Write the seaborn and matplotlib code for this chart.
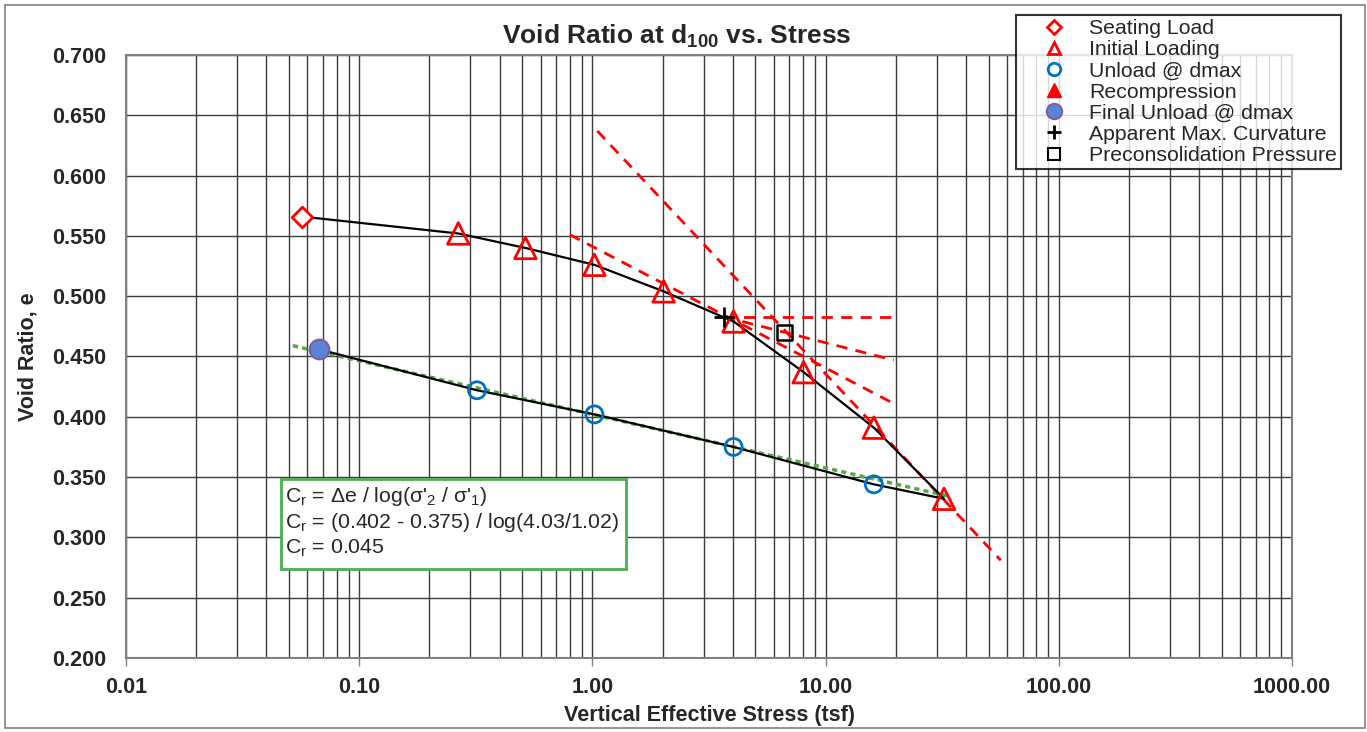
import numpy as np
import pandas as pd
import seaborn as sns
import matplotlib.pyplot as plt
from matplotlib.lines import Line2D
from matplotlib.patches import Rectangle
from matplotlib.ticker import FixedLocator, LogLocator, NullFormatter

# seating load
seat_x = [0.057]
seat_e = [0.566]

# initial loading
load_x = [0.266, 0.516, 1.02, 2.02, 4.03, 8.05, 16.1, 32.2]
load_e = [0.552, 0.540, 0.526, 0.504, 0.479, 0.437, 0.391, 0.332]

# unload @ dmax
unload_x = [16.1, 4.03, 1.02, 0.32]
unload_e = [0.344, 0.375, 0.402, 0.422]

# final unload @ dmax
final_x = [0.067]
final_e = [0.456]

# Casagrande construction
curv_x, curv_e = [3.65], [0.483]
pc_x, pc_e = [6.67], [0.470]
virgin_x, virgin_e = [1.05, 56.4], [0.637, 0.281]
tangent_x, tangent_e = [0.80, 19.6], [0.551, 0.411]
bisect_x, bisect_e = [3.65, 19.6], [0.483, 0.447]
horiz_x, horiz_e = [3.65, 19.6], [0.483, 0.483]

# recompression index fit
cr_x, cr_e = [0.052, 34.0], [0.459, 0.334]

x_ticks = [0.01, 0.1, 1, 10, 100, 1000]
x_labels = ["0.01", "0.10", "1.00", "10.00", "100.00", "1000.00"]
y_ticks = [0.200, 0.250, 0.300, 0.350, 0.400, 0.450, 0.500, 0.550, 0.600, 0.650, 0.700]

sns.set_theme(style="white")
plt.rcParams['font.family'] = ['Liberation Sans', 'DejaVu Sans']
plt.rcParams['mathtext.fontset'] = 'custom'
plt.rcParams['mathtext.rm'] = 'Liberation Sans'
plt.rcParams['mathtext.it'] = 'Liberation Sans:italic'
plt.rcParams['mathtext.bf'] = 'Liberation Sans:bold'

W, H = 1367, 732
fig = plt.figure(figsize=(W / 100, H / 100), dpi=100)
ax = fig.add_axes([126 / W, 1 - 658 / H, (1292 - 126) / W, (658 - 55) / H])

# full e-log p curve (loading then unloading)
curve = pd.DataFrame({
    "stress": seat_x + load_x + unload_x + final_x,
    "e": seat_e + load_e + unload_e + final_e,
})
sns.lineplot(data=curve, x="stress", y="e", sort=False, estimator=None,
             color="black", lw=1.6, ax=ax, zorder=3)

dash = dict(color="red", lw=2, dashes=(4, 3), zorder=2)
for xs, es in [(virgin_x, virgin_e), (tangent_x, tangent_e), (bisect_x, bisect_e), (horiz_x, horiz_e)]:
    ax.plot(xs, es, **dash)
ax.plot(cr_x, cr_e, color="#55a845", lw=2.5, dashes=(1.5, 1.2), zorder=2)

sns.scatterplot(x=seat_x, y=seat_e, marker="D", s=110, facecolor="white", edgecolor="red", linewidth=2, ax=ax, zorder=5)
sns.scatterplot(x=load_x, y=load_e, marker="^", s=240, facecolor="none", edgecolor="red", linewidth=2, ax=ax, zorder=5)
sns.scatterplot(x=unload_x, y=unload_e, marker="o", s=150, facecolor="none", edgecolor="#0070c0", linewidth=2, ax=ax, zorder=5)
sns.scatterplot(x=final_x, y=final_e, marker="o", s=200, facecolor="#5b84d4", edgecolor="#7a5da8", linewidth=1.5, ax=ax, zorder=5)
sns.scatterplot(x=curv_x, y=curv_e, marker="+", s=220, color="black", linewidth=2, ax=ax, zorder=6)
sns.scatterplot(x=pc_x, y=pc_e, marker="s", s=120, facecolor="none", edgecolor="black", linewidth=1.8, ax=ax, zorder=6)

ax.set_xscale("log")
ax.set_xlim(0.01, 1000)
ax.set_ylim(0.2, 0.7)
ax.xaxis.set_major_locator(FixedLocator(x_ticks))
ax.set_xticklabels(x_labels)
ax.xaxis.set_minor_locator(LogLocator(base=10, subs=np.arange(2, 10)))
ax.xaxis.set_minor_formatter(NullFormatter())
ax.set_yticks(y_ticks)
ax.set_yticklabels([f"{v:.3f}" for v in y_ticks])

ax.grid(True, which="major", axis="both", color="#3c3c3c", lw=1)
ax.grid(True, which="minor", axis="x", color="#3c3c3c", lw=1)
ax.tick_params(axis="x", which="major", bottom=True, length=6, width=1, color="#808080", pad=8, labelsize=15.5)
ax.tick_params(axis="x", which="minor", bottom=False)
ax.tick_params(axis="y", left=False, length=0, pad=14, labelsize=15.5)
for lab in ax.get_xticklabels() + ax.get_yticklabels():
    lab.set_fontweight("bold")
for sp in ax.spines.values():
    sp.set_color("#808080")
    sp.set_linewidth(1.5)

ax.set_xlabel("Vertical Effective Stress (tsf)", fontsize=15.5, fontweight="bold", labelpad=5)
ax.set_ylabel("Void Ratio, e", fontsize=15.5, fontweight="bold", labelpad=10)
fig.text(677 / W, 1 - 36 / H, r"Void Ratio at d$_{\mathbf{100}}$ vs. Stress",
         ha="center", va="center", fontsize=19, fontweight="bold")

# Cr annotation box
fig.patches.append(Rectangle((281 / W, 1 - 569 / H), 345 / W, 90 / H, transform=fig.transFigure,
                             facecolor="white", edgecolor="#4caf50", lw=2, zorder=10))
cr_lines = [r"C$_\mathregular{r}$ = Δe / log(σ'$_\mathregular{2}$ / σ'$_\mathregular{1}$)",
            r"C$_\mathregular{r}$ = (0.402 - 0.375) / log(4.03/1.02)",
            r"C$_\mathregular{r}$ = 0.045"]
for i, line in enumerate(cr_lines):
    fig.text(285 / W, 1 - (496 + 26 * i) / H, line, ha="left", va="center", fontsize=15.3, zorder=11)

handles = [
    Line2D([], [], ls="none", marker="D", ms=7, mfc="white", mec="red", mew=2),
    Line2D([], [], ls="none", marker="^", ms=9, mfc="white", mec="red", mew=2),
    Line2D([], [], ls="none", marker="o", ms=9, mfc="white", mec="#0070c0", mew=2),
    Line2D([], [], ls="none", marker="^", ms=10, mfc="red", mec="red"),
    Line2D([], [], ls="none", marker="o", ms=11, mfc="#5b84d4", mec="#7a5da8", mew=1.5),
    Line2D([], [], ls="none", marker="+", ms=10, color="black", mew=2),
    Line2D([], [], ls="none", marker="s", ms=8, mfc="white", mec="black", mew=1.5),
]
labels = ["Seating Load", "Initial Loading", "Unload @ dmax", "Recompression",
          "Final Unload @ dmax", "Apparent Max. Curvature", "Preconsolidation Pressure"]
leg = fig.legend(handles, labels, loc="upper left", bbox_to_anchor=(1016 / W, 1 - 15 / H),
                 fontsize=15.3, frameon=True, fancybox=False, labelspacing=0.1,
                 handlelength=3.2, handletextpad=0.05, borderpad=0.2, borderaxespad=0)
leg.get_frame().set_edgecolor("black")
leg.get_frame().set_linewidth(1.5)
leg.set_zorder(20)

# chart border
fig.patches.append(Rectangle((5 / W, 4 / H), 1360 / W, 723 / H, transform=fig.transFigure,
                             facecolor="none", edgecolor="#808080", lw=1.2))

fig.savefig("out.png", dpi=100)
